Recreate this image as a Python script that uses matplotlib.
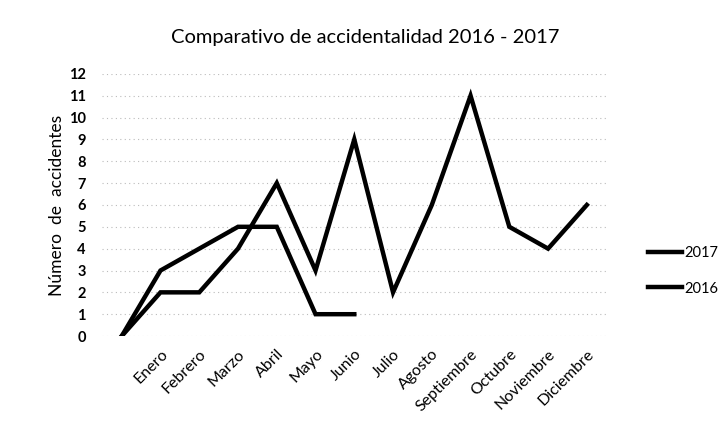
import matplotlib.pyplot as plt

# categories (first position is an unlabeled starting point)
meses = ['', 'Enero', 'Febrero', 'Marzo', 'Abril', 'Mayo', 'Junio', 'Julio',
         'Agosto', 'Septiembre', 'Octubre', 'Noviembre', 'Diciembre']
acc_2017 = [0, 3, 4, 5, 5, 1, 1]
acc_2016 = [0, 2, 2, 4, 7, 3, 9, 2, 6, 11, 5, 4, 6]

plt.rcParams['font.family'] = ['Lato', 'DejaVu Sans']

fig = plt.figure(figsize=(7.26, 4.37), dpi=100)
ax = fig.add_axes([0.141, 0.231, 0.694, 0.60])

x_2017 = list(range(len(acc_2017)))
x_2016 = list(range(len(acc_2016)))
l1, = ax.plot(x_2017, acc_2017, color='black', lw=3.2, solid_joinstyle='miter', label='2017')
l2, = ax.plot(x_2016, acc_2016, color='black', lw=3.2, solid_joinstyle='miter', label='2016')

ax.set_xlim(-0.5, 12.5)
ax.set_ylim(0, 12)
ax.set_yticks(range(0, 13))
ax.set_xticks(range(len(meses)))
ax.set_xticklabels(meses, rotation=45, ha='right', rotation_mode='anchor', fontsize=11.5)
ax.tick_params(axis='y', labelsize=10.5, length=0, pad=12)
ax.tick_params(axis='x', length=0, pad=8)
for lbl in ax.get_yticklabels():
    lbl.set_fontweight('bold')

ax.grid(axis='y', color='#bbbbbb', linestyle=(0, (1, 3)), linewidth=0.8)
ax.set_axisbelow(True)
for s in ax.spines.values():
    s.set_visible(False)

ax.set_ylabel('Número  de  accidentes', fontsize=12.5, labelpad=3)
fig.text(0.503, 0.915, 'Comparativo de accidentalidad 2016 - 2017', ha='center',
         va='center', fontsize=14.5)

fig.legend(handles=[l1, l2], loc='center left', bbox_to_anchor=(0.875, 0.38),
           frameon=False, fontsize=10.5, handlelength=2.3, handletextpad=0.15,
           labelspacing=1.45)

fig.savefig('out.png', dpi=100)
